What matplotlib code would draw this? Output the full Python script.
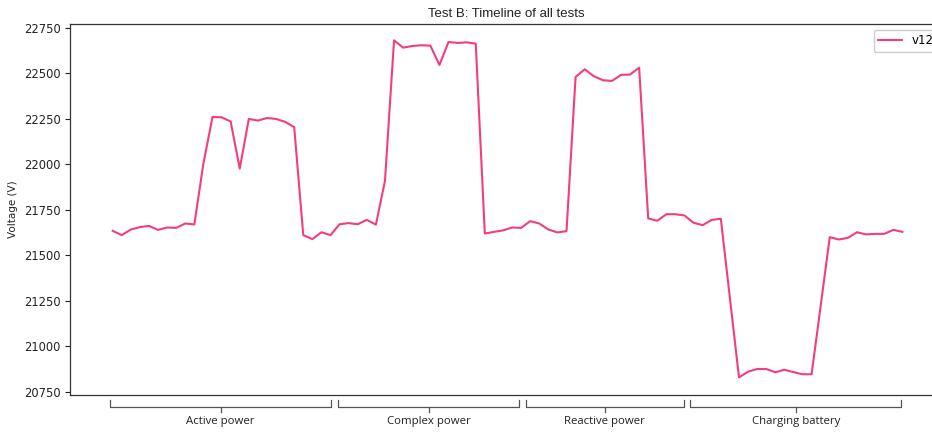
import matplotlib.pyplot as plt
import numpy as np

voltage = [21635, 21611, 21642, 21655, 21662, 21640, 21653, 21651, 21675, 21670,
           22005, 22261, 22259, 22236, 21977, 22250, 22241, 22255, 22250, 22234,
           22205, 21611, 21589, 21627, 21611, 21671, 21677, 21671, 21695, 21669,
           21909, 22682, 22642, 22651, 22655, 22653, 22547, 22673, 22668, 22671,
           22664, 21620, 21629, 21637, 21653, 21651, 21688, 21675, 21642, 21626,
           21633, 22481, 22523, 22485, 22463, 22459, 22492, 22494, 22532, 21703,
           21690, 21726, 21726, 21719, 21679, 21666, 21695, 21701, 21265, 20829,
           20860, 20875, 20875, 20857, 20871, 20858, 20846, 20846, 21223, 21600,
           21587, 21596, 21627, 21615, 21618, 21618, 21640, 21629]

tests = ['Active power', 'Complex power', 'Reactive power', 'Charging battery']
test_start = [-0.3, 24.8, 45.5, 63.6]
test_end = [24.1, 44.8, 62.9, 86.9]

W, H = 932, 432
fig = plt.figure(figsize=(W / 100, H / 100), dpi=100)
ax = fig.add_axes([70.3 / W, (H - 395) / H, (942 - 70.3) / W, (395 - 24) / H])

ax.plot(np.arange(len(voltage)), voltage, color='#F23D82', lw=1.5, label='v12')
ax.set_ylim(20732, 22772)
ax.set_yticks([20750, 21000, 21250, 21500, 21750, 22000, 22250, 22500, 22750])
ax.set_xticks([])
ax.tick_params(axis='y', labelsize=8.3, colors='#222222', width=0.8)
for s in ['left', 'bottom', 'top']:
    ax.spines[s].set_color('#333333')
    ax.spines[s].set_linewidth(0.9)
ax.spines['right'].set_visible(False)

ax.set_title('Test B: Timeline of all tests', fontsize=9.5, family='Liberation Sans',
             color='#222222', pad=5)
ax.set_ylabel('Voltage (V)', fontsize=7.5, color='#222222', labelpad=4)
ax.legend(loc='upper right', fontsize=8.5, fancybox=True, framealpha=1,
          edgecolor='#cccccc', bbox_to_anchor=(938 / W, (H - 29.5) / H),
          bbox_transform=fig.transFigure, borderaxespad=0)

# brackets under the x axis
tr = ax.get_xaxis_transform()
bc = '#555555'
for name, a, b in zip(tests, test_start, test_end):
    mid = (a + b) / 2
    ax.plot([a, a, b, b], [-0.014, -0.032, -0.032, -0.014], color=bc, lw=0.9,
            transform=tr, clip_on=False)
    ax.plot([mid, mid], [-0.032, -0.045], color=bc, lw=0.9, transform=tr, clip_on=False)
    ax.text(mid, -0.071, name, transform=tr, ha='center', va='center',
            fontsize=8.2, family='Open Sans', color='#222222')

fig.savefig('out.png', dpi=100)
